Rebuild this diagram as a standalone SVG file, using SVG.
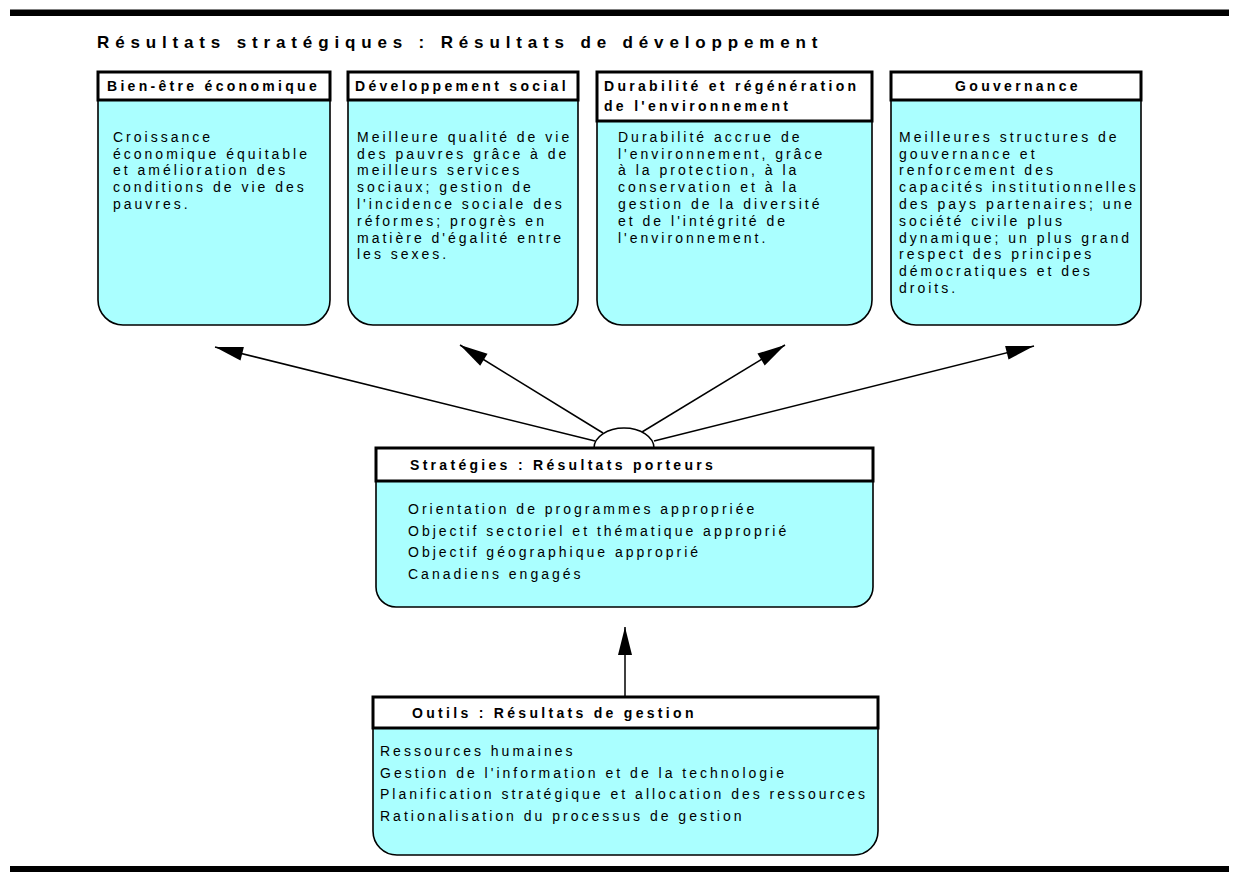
<svg xmlns="http://www.w3.org/2000/svg" width="1238" height="877" viewBox="0 0 1238 877">
<defs>
<style>
.bar{fill:#000}
.body{fill:#AAFFFF;stroke:#000;stroke-width:1.6}
.hdr{fill:#fff;stroke:#000;stroke-width:3}
.title{font-family:"Liberation Sans",Arial,sans-serif;font-weight:bold;font-size:17px;letter-spacing:5.85px;fill:#000}
.ht{font-family:"Liberation Sans",Arial,sans-serif;font-weight:bold;font-size:14px;letter-spacing:3.3px;fill:#000}
.bt{font-family:"Liberation Sans",Arial,sans-serif;font-size:14px;letter-spacing:3px;fill:#000}
.conn{stroke:#000;stroke-width:1.5;fill:none}
</style>
<marker id="ah" markerUnits="userSpaceOnUse" markerWidth="32" markerHeight="20" viewBox="-30 -10 32 20" refX="0" refY="0" orient="auto">
<path d="M0,0 L-28,-7 L-28,7 Z" fill="#000"/>
</marker>
</defs>
<rect class="bar" x="10" y="9.5" width="1219" height="6.5"/>
<rect class="bar" x="10" y="866" width="1219" height="6"/>
<text class="title" x="97" y="48">Résultats stratégiques : Résultats de développement</text>

<g id="connectors">
<line class="conn" x1="595" y1="441" x2="215" y2="347" marker-end="url(#ah)"/>
<line class="conn" x1="603" y1="433" x2="460" y2="345" marker-end="url(#ah)"/>
<line class="conn" x1="642" y1="432" x2="785" y2="345" marker-end="url(#ah)"/>
<line class="conn" x1="654" y1="441" x2="1034" y2="346" marker-end="url(#ah)"/>
<line class="conn" x1="625" y1="697" x2="625" y2="627" marker-end="url(#ah)"/>
<path d="M594,448 A30,20 0 0 1 654,448 Z" fill="#fff" stroke="#000" stroke-width="1.5"/>
</g>

<g id="bien-etre">
<path class="body" d="M98,100 V300 A25,25 0 0 0 123,325 H305 A25,25 0 0 0 330,300 V100 Z"/>
<rect class="hdr" x="98" y="72" width="232" height="28"/>
<text class="ht" x="107" y="91">Bien-être économique</text>
<text class="bt" x="113" y="141.7">Croissance</text>
<text class="bt" x="113" y="158.5">économique équitable</text>
<text class="bt" x="113" y="175.3">et amélioration des</text>
<text class="bt" x="113" y="192.1">conditions de vie des</text>
<text class="bt" x="113" y="208.9">pauvres.</text>
</g>

<g id="developpement-social">
<path class="body" d="M348,100 V300 A25,25 0 0 0 373,325 H553 A25,25 0 0 0 578,300 V100 Z"/>
<rect class="hdr" x="348" y="72" width="230" height="28"/>
<text class="ht" x="355" y="91">Développement social</text>
<text class="bt" x="357" y="141.7">Meilleure qualité de vie</text>
<text class="bt" x="357" y="158.5">des pauvres grâce à de</text>
<text class="bt" x="357" y="175.3">meilleurs services</text>
<text class="bt" x="357" y="192.1">sociaux; gestion de</text>
<text class="bt" x="357" y="208.9">l'incidence sociale des</text>
<text class="bt" x="357" y="225.7">réformes; progrès en</text>
<text class="bt" x="357" y="242.5">matière d'égalité entre</text>
<text class="bt" x="357" y="259.3">les sexes.</text>
</g>

<g id="environnement">
<path class="body" d="M597,121 V300 A25,25 0 0 0 622,325 H847 A25,25 0 0 0 872,300 V121 Z"/>
<rect class="hdr" x="597" y="72" width="275" height="49"/>
<text class="ht" x="604" y="91">Durabilité et régénération</text>
<text class="ht" x="604" y="111">de l'environnement</text>
<text class="bt" x="618" y="141.7">Durabilité accrue de</text>
<text class="bt" x="618" y="158.5">l'environnement, grâce</text>
<text class="bt" x="618" y="175.3">à la protection, à la</text>
<text class="bt" x="618" y="192.1">conservation et à la</text>
<text class="bt" x="618" y="208.9">gestion de la diversité</text>
<text class="bt" x="618" y="225.7">et de l'intégrité de</text>
<text class="bt" x="618" y="242.5">l'environnement.</text>
</g>

<g id="gouvernance">
<path class="body" d="M891,100 V300 A25,25 0 0 0 916,325 H1116 A25,25 0 0 0 1141,300 V100 Z"/>
<rect class="hdr" x="891" y="72" width="250" height="28"/>
<text class="ht" x="1018" y="91" text-anchor="middle">Gouvernance</text>
<text class="bt" x="899" y="141.7">Meilleures structures de</text>
<text class="bt" x="899" y="158.5">gouvernance et</text>
<text class="bt" x="899" y="175.3">renforcement des</text>
<text class="bt" x="899" y="192.1">capacités institutionnelles</text>
<text class="bt" x="899" y="208.9">des pays partenaires; une</text>
<text class="bt" x="899" y="225.7">société civile plus</text>
<text class="bt" x="899" y="242.5">dynamique; un plus grand</text>
<text class="bt" x="899" y="259.3">respect des principes</text>
<text class="bt" x="899" y="276.1">démocratiques et des</text>
<text class="bt" x="899" y="292.9">droits.</text>
</g>

<g id="strategies">
<path class="body" d="M376,481 V587 A20,20 0 0 0 396,607 H853 A20,20 0 0 0 873,587 V481 Z"/>
<rect class="hdr" x="376" y="448" width="497" height="33"/>
<text class="ht" x="410" y="470">Stratégies : Résultats porteurs</text>
<text class="bt" x="408" y="514">Orientation de programmes appropriée</text>
<text class="bt" x="408" y="535.5">Objectif sectoriel et thématique approprié</text>
<text class="bt" x="408" y="557">Objectif géographique approprié</text>
<text class="bt" x="408" y="578.5">Canadiens engagés</text>
</g>

<g id="outils">
<path class="body" d="M373,728 V831 A24,24 0 0 0 397,855 H854 A24,24 0 0 0 878,831 V728 Z"/>
<rect class="hdr" x="373" y="697" width="505" height="31"/>
<text class="ht" x="412" y="718">Outils : Résultats de gestion</text>
<text class="bt" x="380" y="756">Ressources humaines</text>
<text class="bt" x="380" y="777.5">Gestion de l'information et de la technologie</text>
<text class="bt" x="380" y="799">Planification stratégique et allocation des ressources</text>
<text class="bt" x="380" y="820.5">Rationalisation du processus de gestion</text>
</g>
</svg>
